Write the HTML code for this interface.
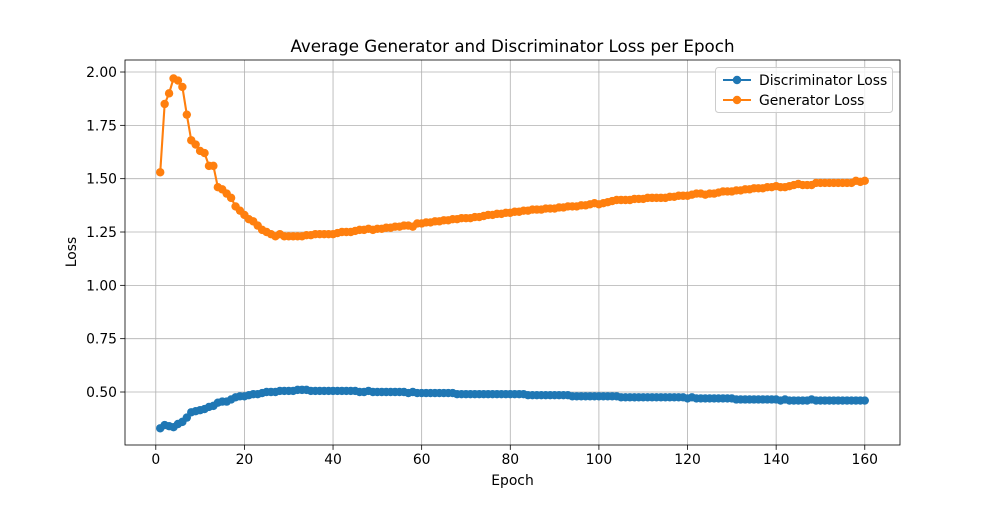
<!DOCTYPE html>
<html><head><meta charset="utf-8"><style>
body{margin:0;background:#fff;font-family:"Liberation Sans","DejaVu Sans",sans-serif}
svg text{font-family:"DejaVu Sans","Liberation Sans",sans-serif}
</style></head><body>
<svg id="chart" width="1000" height="500" xmlns="http://www.w3.org/2000/svg"></svg>
<script>
const genLoss=[1.53,1.85,1.90,1.97,1.96,1.93,1.80,1.68,1.66,1.63,1.62,1.56,1.56,1.46,1.45,1.43,1.41,1.37,1.35,1.33,1.31,1.30,1.28,1.26,1.25,1.24,1.23,1.24,1.23,1.23,
1.23,1.23,1.23,1.235,1.235,1.24,1.24,1.24,1.24,1.24,
1.245,1.25,1.25,1.25,1.255,1.26,1.26,1.265,1.26,1.265,
1.265,1.27,1.27,1.275,1.275,1.28,1.28,1.275,1.29,1.29,
1.295,1.295,1.30,1.30,1.305,1.305,1.31,1.31,1.315,1.315,
1.315,1.32,1.32,1.325,1.33,1.33,1.335,1.335,1.34,1.34,
1.345,1.345,1.35,1.35,1.355,1.355,1.355,1.36,1.36,1.36,
1.365,1.365,1.37,1.37,1.37,1.375,1.375,1.38,1.385,1.38,
1.385,1.39,1.395,1.40,1.40,1.40,1.40,1.405,1.405,1.405,
1.41,1.41,1.41,1.41,1.41,1.415,1.415,1.42,1.42,1.42,
1.425,1.43,1.43,1.425,1.43,1.43,1.435,1.44,1.44,1.44,
1.445,1.445,1.45,1.45,1.455,1.455,1.455,1.46,1.46,1.465,
1.46,1.46,1.465,1.47,1.475,1.47,1.47,1.47,1.48,1.48,
1.48,1.48,1.48,1.48,1.48,1.48,1.48,1.49,1.485,1.49];
const discLoss=[0.33,0.345,0.34,0.335,0.35,0.36,0.38,0.405,0.41,0.415,0.42,0.43,0.435,0.45,0.455,0.455,0.465,0.475,0.48,0.48,
0.485,0.49,0.49,0.495,0.50,0.50,0.50,0.505,0.505,0.505,
0.505,0.51,0.51,0.51,0.505,0.505,0.505,0.505,0.505,0.505,
0.505,0.505,0.505,0.505,0.505,0.50,0.50,0.505,0.50,0.50,
0.50,0.50,0.50,0.50,0.50,0.50,0.495,0.50,0.495,0.495,
0.495,0.495,0.495,0.495,0.495,0.495,0.495,0.49,0.49,0.49,
0.49,0.49,0.49,0.49,0.49,0.49,0.49,0.49,0.49,0.49,
0.49,0.49,0.49,0.485,0.485,0.485,0.485,0.485,0.485,0.485,
0.485,0.485,0.485,0.48,0.48,0.48,0.48,0.48,0.48,0.48,
0.48,0.48,0.48,0.48,0.475,0.475,0.475,0.475,0.475,0.475,
0.475,0.475,0.475,0.475,0.475,0.475,0.475,0.475,0.475,0.47,
0.475,0.47,0.47,0.47,0.47,0.47,0.47,0.47,0.47,0.47,
0.465,0.465,0.465,0.465,0.465,0.465,0.465,0.465,0.465,0.465,
0.46,0.465,0.46,0.46,0.46,0.46,0.46,0.465,0.46,0.46,
0.46,0.46,0.46,0.46,0.46,0.46,0.46,0.46,0.46,0.46];
const xTicks=[0,20,40,60,80,100,120,140,160];
const yTicks=[0.50,0.75,1.00,1.25,1.50,1.75,2.00];

const L=125,R=900,T=60,B=445;
const xMin=-6.95,xMax=167.95,yMin=0.2516,yMax=2.0563;
const sx=v=>L+(v-xMin)/(xMax-xMin)*(R-L);
const sy=v=>B-(v-yMin)/(yMax-yMin)*(B-T);
const svg=document.getElementById('chart');
const NS='http://www.w3.org/2000/svg';
function mk(tag,attrs,parent){const e=document.createElementNS(NS,tag);for(const k in attrs)e.setAttribute(k,attrs[k]);(parent||svg).appendChild(e);return e;}

const grid=mk('g',{});


xTicks.forEach(t=>{
  mk('line',{x1:sx(t),x2:sx(t),y1:T,y2:B,stroke:'#b0b0b0','stroke-width':0.8},grid);
  mk('line',{x1:sx(t),x2:sx(t),y1:B,y2:B+4.9,stroke:'#000','stroke-width':0.8});
  const tx=mk('text',{x:sx(t),y:B+19,'font-size':'13.9','text-anchor':'middle'});
  tx.textContent=t;
  
  
});
yTicks.forEach(t=>{
  mk('line',{x1:L,x2:R,y1:sy(t),y2:sy(t),stroke:'#b0b0b0','stroke-width':0.8},grid);
  mk('line',{x1:L-4.9,x2:L,y1:sy(t),y2:sy(t),stroke:'#000','stroke-width':0.8});
  const tx=mk('text',{x:L-8,y:sy(t)+5,'font-size':'13.9','text-anchor':'end'});
  tx.textContent=t.toFixed(2);
  
  
});

function series(data,color,name){
  const g=mk('g',{});
  
  
  const pts=data.map((v,i)=>sx(i+1)+','+sy(v)).join(' ');
  mk('polyline',{points:pts,fill:'none',stroke:color,'stroke-width':2.1},g);
  data.forEach((v,i)=>{
    const c=mk('circle',{cx:sx(i+1),cy:sy(v),r:4.2,fill:color},g);
    
    
  });
}
series(discLoss,'#1f77b4','discriminator-series');
series(genLoss,'#ff7f0e','generator-series');

const frame=mk('rect',{x:L,y:T,width:R-L,height:B-T,fill:'none',stroke:'#000','stroke-width':0.8});



const title=mk('text',{x:(L+R)/2,y:52,'font-size':'16.7','text-anchor':'middle'});
title.textContent='Average Generator and Discriminator Loss per Epoch';


const xl=mk('text',{x:(L+R)/2,y:485,'font-size':'13.9','text-anchor':'middle'});
xl.textContent='Epoch';


const yl=mk('text',{x:0,y:0,'font-size':'13.9','text-anchor':'middle',transform:'translate(76,252) rotate(-90)'});
yl.textContent='Loss';



const lg=mk('g',{});


mk('rect',{x:715.5,y:67.5,width:177,height:45,rx:3,fill:'#fff','fill-opacity':0.8,stroke:'#ccc','stroke-width':1},lg);
[['Discriminator Loss','#1f77b4',80],['Generator Loss','#ff7f0e',100]].forEach(([n,c,y])=>{
  const e=mk('g',{},lg);
  
  
  mk('line',{x1:723,x2:751,y1:y,y2:y,stroke:c,'stroke-width':2.1},e);
  mk('circle',{cx:737,cy:y,r:4.2,fill:c},e);
  const t=mk('text',{x:759,y:y+5,'font-size':'13.9'},e);
  t.textContent=n;
});
</script>
</body></html>
